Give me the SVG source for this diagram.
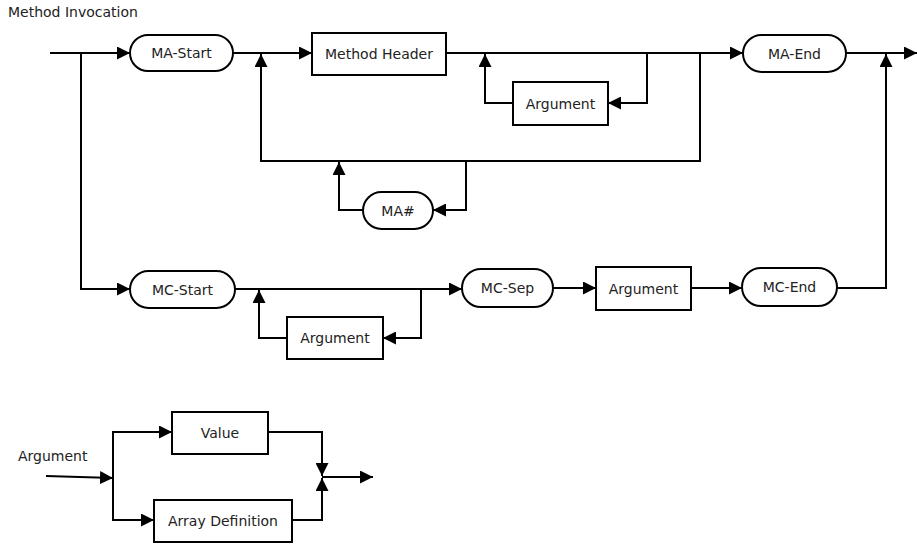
<svg xmlns="http://www.w3.org/2000/svg" width="917" height="545" viewBox="0 0 917 545">
<style>
.n{fill:#fff;stroke:#000;stroke-width:2}
.t{font-family:"DejaVu Sans",sans-serif;font-size:14px;fill:#222;text-anchor:middle;dominant-baseline:central}
.c path{fill:none;stroke:#000;stroke-width:2;marker-end:url(#a)}
</style>
<defs>
<marker id="a" markerUnits="userSpaceOnUse" markerWidth="13" markerHeight="13" refX="13" refY="6.5" orient="auto"><path d="M0,0 L13,6.5 L0,13 z" fill="#000"/></marker>
</defs>
<rect width="917" height="545" fill="#fff"/>
<text x="8" y="17" style="font-family:'DejaVu Sans',sans-serif;font-size:14px;fill:#222">Method Invocation</text>
<text x="18" y="461" style="font-family:'DejaVu Sans',sans-serif;font-size:14px;fill:#222">Argument</text>
<g class="c">
<path d="M50,53 H130"/>
<path d="M81,53 V289 H130"/>
<path d="M233,53 H312"/>
<path d="M700,53 V161 H261 V54"/>
<path d="M446,53 H743"/>
<path d="M647,53 V103 H608"/>
<path d="M513,103 H485 V54"/>
<path d="M466,161 V210 H433"/>
<path d="M363,210 H339 V162"/>
<path d="M846,53 H917"/>
<path d="M837,288 H886 V54"/>
<path d="M235,289 H462"/>
<path d="M421,289 V338 H383"/>
<path d="M287,338 H259 V290"/>
<path d="M553,288 H596"/>
<path d="M691,288 H742"/>
<path d="M46,476 L113,478"/>
<path d="M113,478 V432 H172"/>
<path d="M113,478 V520 H154"/>
<path d="M268,432 H322 V476"/>
<path d="M292,520 H322 V478"/>
<path d="M322,477 H373"/>
</g>
<g id="ma-start"><rect class="n" x="130" y="35" width="103" height="36" rx="18"/><text class="t" x="181.5" y="53">MA-Start</text></g>
<g id="method-header"><rect class="n" x="312" y="33" width="134" height="42"/><text class="t" x="379" y="54">Method Header</text></g>
<g id="argument-1"><rect class="n" x="513" y="82" width="95" height="43"/><text class="t" x="560.5" y="103.5">Argument</text></g>
<g id="ma-hash"><rect class="n" x="363" y="192" width="70" height="37" rx="18.5"/><text class="t" x="398" y="210.5">MA#</text></g>
<g id="ma-end"><rect class="n" x="743" y="35" width="103" height="37" rx="18.5"/><text class="t" x="794.5" y="53.5">MA-End</text></g>
<g id="mc-start"><rect class="n" x="130" y="271" width="105" height="37" rx="18.5"/><text class="t" x="182.5" y="289.5">MC-Start</text></g>
<g id="argument-2"><rect class="n" x="287" y="317" width="96" height="42"/><text class="t" x="335" y="338">Argument</text></g>
<g id="mc-sep"><rect class="n" x="462" y="269" width="91" height="38" rx="19"/><text class="t" x="507.5" y="288">MC-Sep</text></g>
<g id="argument-3"><rect class="n" x="596" y="267" width="95" height="43"/><text class="t" x="643.5" y="288.5">Argument</text></g>
<g id="mc-end"><rect class="n" x="742" y="268" width="95" height="38" rx="19"/><text class="t" x="789.5" y="287">MC-End</text></g>
<g id="value"><rect class="n" x="172" y="412" width="96" height="42"/><text class="t" x="220" y="433">Value</text></g>
<g id="array-definition"><rect class="n" x="154" y="500" width="138" height="42"/><text class="t" x="223" y="521">Array Definition</text></g>
</svg>
